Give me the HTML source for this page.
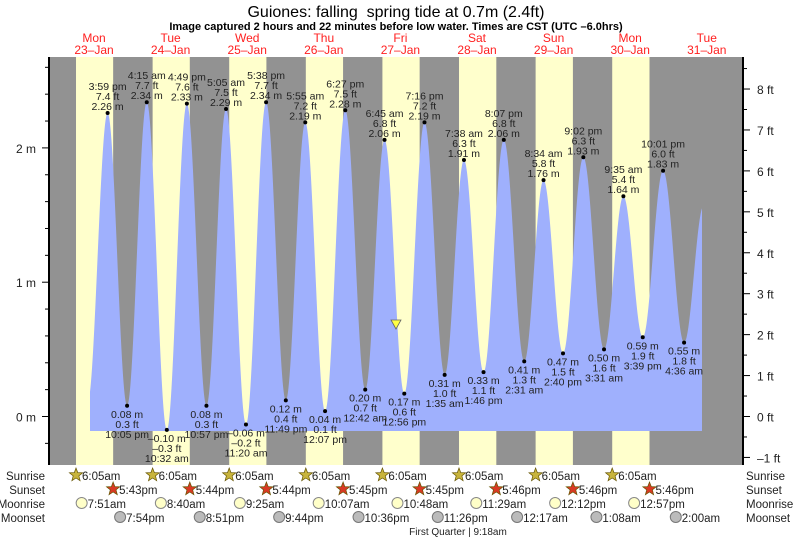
<!DOCTYPE html>
<html><head><meta charset="utf-8"><style>
html,body{margin:0;padding:0;background:#fff;width:793px;height:539px;overflow:hidden}
svg{display:block;font-family:"Liberation Sans",Arial,sans-serif}
</style></head><body>
<svg id="s" width="793" height="539" viewBox="0 0 793 539" xmlns="http://www.w3.org/2000/svg"></svg>
<script>
var S=document.getElementById('s'),out='';
var X0=56.6,PH=76.6/24;
function X(h){return X0+h*PH}
function Y(m){return 416.5-m*134.3}
function T(x,y,t,o){o=o||{};out+='<text x="'+x+'" y="'+y+'" font-size="'+(o.fs||10.5)+'" fill="'+(o.c||'#222')+'" text-anchor="'+(o.a||'middle')+'"'+(o.w?' font-weight="bold"':'')+'>'+t+'</text>';}
out+='<rect x="49" y="57" width="694" height="408" fill="#929292"/>';
var rise=6+5/60,sets=[17+43/60,17+44/60,17+44/60,17+45/60,17+45/60,17+46/60,17+46/60,17+46/60];
for(var d=0;d<8;d++){var a=X(d*24+rise),b=X(d*24+sets[d]);out+='<rect x="'+a+'" y="57" width="'+(b-a)+'" height="408" fill="#ffffcc"/>';}
function pt(s){var p=s.split(/[: ]/);var h=+p[0]%12+ +p[1]/60;if(p[2]=='pm')h+=12;return h}
var ex=[[0,'9:40 am',0.1,0],[0,'3:59 pm',2.26,1],[0,'10:05 pm',0.08,1],[1,'4:15 am',2.34,1],[1,'10:32 am',-0.10,1],[1,'4:49 pm',2.33,1],[1,'10:57 pm',0.08,1],
[2,'5:05 am',2.29,1],[2,'11:20 am',-0.06,1],[2,'5:38 pm',2.34,1],[2,'11:49 pm',0.12,1],[3,'5:55 am',2.19,1],[3,'12:07 pm',0.04,1],[3,'6:27 pm',2.28,1],
[4,'12:42 am',0.20,1],[4,'6:45 am',2.06,1],[4,'12:56 pm',0.17,1],[4,'7:16 pm',2.19,1],[5,'1:35 am',0.31,1],[5,'7:38 am',1.91,1],[5,'1:46 pm',0.33,1],[5,'8:07 pm',2.06,1],
[6,'2:31 am',0.41,1],[6,'8:34 am',1.76,1],[6,'2:40 pm',0.47,1],[6,'9:02 pm',1.93,1],[7,'3:31 am',0.50,1],[7,'9:35 am',1.64,1],[7,'3:39 pm',0.59,1],[7,'10:01 pm',1.83,1],
[8,'4:36 am',0.55,1],[8,'10:45 am',1.57,0]];
ex.forEach(function(e){e.t=e[0]*24+pt(e[1])});
function H(t){for(var i=0;i<ex.length-1;i++){var a=ex[i],b=ex[i+1];if(t>=a.t&&t<=b.t){var f=(1-Math.cos(Math.PI*(t-a.t)/(b.t-a.t)))/2;return a[2]+(b[2]-a[2])*f}}return 0}
var p='M90,431';for(var x=90;x<=702;x+=0.5){var t=(x-X0)/PH;p+=' L'+x+','+Math.min(431,Y(H(t))).toFixed(1)}
p+=' L702,431 Z';out+='<path d="'+p+'" fill="#9fb0fd"/>';
ex.forEach(function(e,i){if(!e[3])return;var x=X(e.t),y=Y(e[2]),ft=(e[2]/0.3048).toFixed(1).replace('-','&#8211;'),m=e[2].toFixed(2).replace('-','&#8211;');
out+='<circle cx="'+x+'" cy="'+y+'" r="2" fill="#000"/>';
var hi=e[2]>1;if(hi){T(x,y-3,m+' m');T(x,y-13,ft+' ft');T(x,y-23,e[1]);}else{T(x,y+12,m+' m');T(x,y+22,ft+' ft');T(x,y+32,e[1]);}});
out+='<polygon points="391,320 401,320 396,329" fill="#ffff44" stroke="#666" stroke-width="0.8"/>';
out+='<line x1="49" y1="57" x2="49" y2="465" stroke="#000" stroke-width="2"/><line x1="743" y1="57" x2="743" y2="465" stroke="#000" stroke-width="2"/>';
for(var v=-0.2;v<=2.61;v+=0.2){var y=Y(v),mj=Math.abs(v-Math.round(v))<0.01;out+='<line x1="'+(mj?42:45)+'" y1="'+y+'" x2="49" y2="'+y+'" stroke="#000"/>';if(mj)T(36,y+5,Math.round(v)+' m',{fs:12,a:'end'});}
for(var f=-1;f<=8.51;f+=0.5){var y=416.5-f*0.3048*134.3,mj=f%1==0;out+='<line x1="743" y1="'+y+'" x2="'+(mj?750:747)+'" y2="'+y+'" stroke="#000"/>';if(mj)T(757,y+5,(f<0?'&#8211;1':f)+' ft',{fs:12,a:'start'});}
T(396,17,'Guiones: falling&#160; spring tide at 0.7m (2.4ft)',{fs:16,c:'#000'});
T(396,30,'Image captured 2 hours and 22 minutes before low water. Times are CST (UTC &#8211;6.0hrs)',{fs:11,c:'#000',w:1});
var dn=['Mon','Tue','Wed','Thu','Fri','Sat','Sun','Mon','Tue'];
for(var d=0;d<9;d++){var x=94+d*76.6;T(x,42,dn[d],{fs:12,c:'#ff2020'});T(x,54,(23+d)+'&#8211;Jan',{fs:12,c:'#ff2020'});}
['Sunrise','Sunset','Moonrise','Moonset'].forEach(function(l,i){var y=480+i*14;T(45,y,l,{fs:11.5,a:'end',c:'#222'});T(746,y,l,{fs:11.5,a:'start',c:'#222'});});
function star(cx,cy,fc){var s='';for(var k=0;k<10;k++){var r=k%2?3:7,a=-Math.PI/2+k*Math.PI/5;s+=(cx+r*Math.cos(a)).toFixed(1)+','+(cy+r*Math.sin(a)).toFixed(1)+' '}out+='<polygon points="'+s+'" fill="'+fc+'" stroke="#665500" stroke-width="0.7"/>';}
var ss=['5:43pm','5:44pm','5:44pm','5:45pm','5:45pm','5:46pm','5:46pm','5:46pm'];
var mr=['7:51am','8:40am','9:25am','10:07am','10:48am','11:29am','12:12pm','12:57pm'];
var ms=[[0,'7:54pm'],[1,'8:51pm'],[2,'9:44pm'],[3,'10:36pm'],[4,'11:26pm'],[6,'12:17am'],[7,'1:08am'],[8,'2:00am']];
function pt2(s){return pt(s.replace(/(am|pm)/,' $1'))}
for(var d=0;d<8;d++){var x=X(d*24+rise);star(x,475,'#c8b43c');T(x+6,480,'6:05am',{fs:11.5,a:'start'});
x=X(d*24+sets[d]);star(x,489,'#d83a24');T(x+6,494,ss[d],{fs:11.5,a:'start'});
x=X(d*24+pt2(mr[d]));out+='<circle cx="'+x+'" cy="503" r="5.5" fill="#ffffc8" stroke="#888"/>';T(x+6,508,mr[d],{fs:11.5,a:'start'});
x=X(ms[d][0]*24+pt2(ms[d][1]));out+='<circle cx="'+x+'" cy="517" r="5.5" fill="#bbb" stroke="#777"/>';T(x+6,522,ms[d][1],{fs:11.5,a:'start'});}
T(458,535,'First Quarter | 9:18am',{fs:10});
S.innerHTML=out;
</script>
</body></html>
